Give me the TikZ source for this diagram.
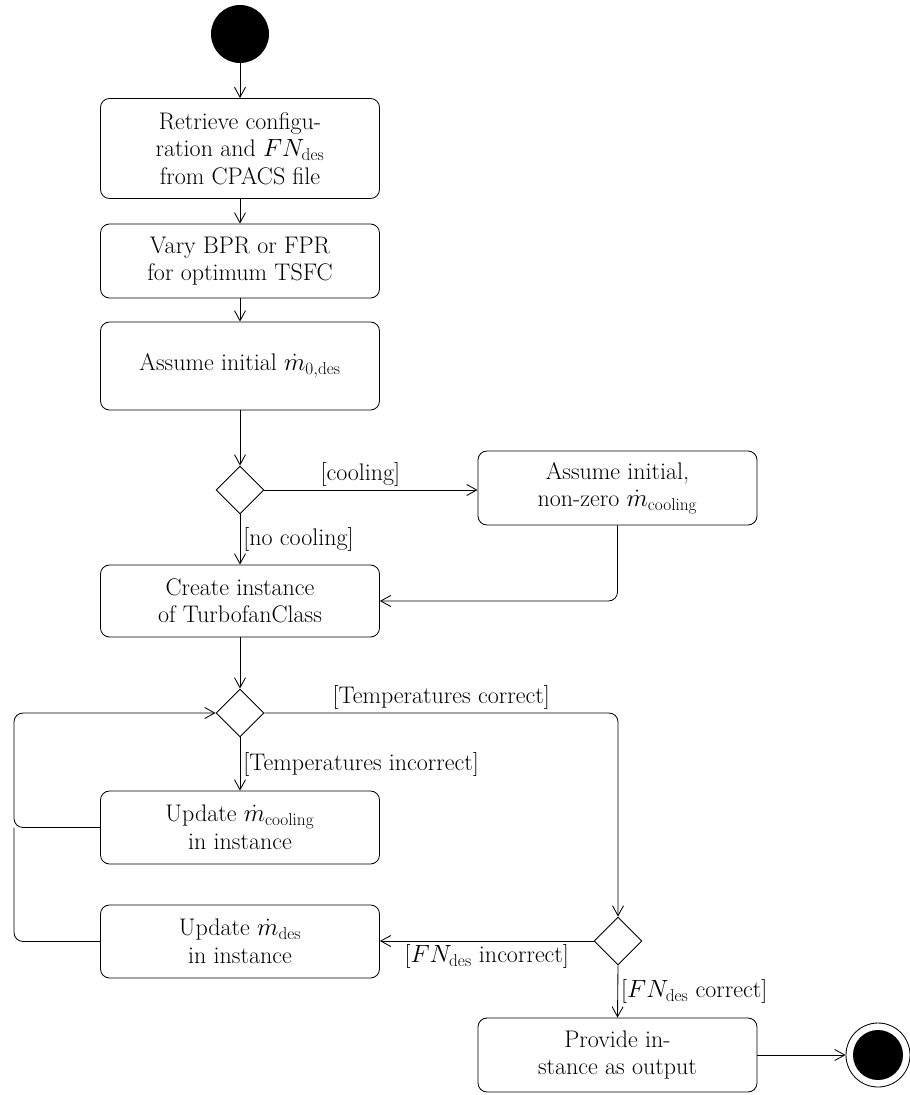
\documentclass[tikz,border=0pt]{standalone}
\usetikzlibrary{shapes.geometric,arrows.meta}
\begin{document}
\begin{tikzpicture}[x=1pt,y=-1pt,
  font=\fontsize{24}{27.5}\selectfont,
  every path/.style={line width=0.85pt},
  flow/.style={-{Straight Barb[length=10pt,width=11pt]}},
  action/.style={draw,rounded corners=9pt,minimum width=279pt,align=center,inner sep=0pt},
  choice/.style={draw,diamond,minimum width=48pt,minimum height=48pt,inner sep=0pt},
  guard/.style={inner sep=3pt}]
\useasboundingbox (0,0) rectangle (910,1095);

% initial and final states
\node[circle,fill=black,minimum size=58pt,inner sep=0pt] (start) at (240,34) {};
\node[circle,draw,minimum size=64pt,inner sep=0pt] (stop) at (878,1055) {};
\fill (stop.center) circle (25pt);

% actions
\node[action,minimum height=100pt] (b1) at (240,148.5) {Retrieve configu-\\ration and $FN_\mathrm{des}$\\from CPACS file};
\node[action,minimum height=74pt] (b2) at (240,261) {Vary BPR or FPR\\for optimum TSFC};
\node[action,minimum height=88pt] (b3) at (240,366) {Assume initial $\dot m_{0,\mathrm{des}}$};
\node[action,minimum height=74pt] (b4) at (617.5,488) {Assume initial,\\non-zero $\dot m_\mathrm{cooling}$};
\node[action,minimum height=72pt] (b5) at (240,601) {Create instance\\of TurbofanClass};
\node[action,minimum height=73pt] (b6) at (240,827.5) {Update $\dot m_\mathrm{cooling}$\\in instance};
\node[action,minimum height=73pt] (b7) at (240,941.5) {Update $\dot m_\mathrm{des}$\\in instance};
\node[action,minimum height=74pt] (b8) at (617.5,1055) {Provide in-\\stance as output};

% decisions
\node[choice] (d1) at (240,490) {};
\node[choice] (d2) at (240,713) {};
\node[choice] (d3) at (618,941) {};

\coordinate (loop) at (14,827.5);

% control flow
\draw[flow] (start) -- (b1);
\draw[flow] (b1) -- (b2);
\draw[flow] (b2) -- (b3);
\draw[flow] (b3) -- (d1);
\draw[flow] (d1.east) -- node[guard,above,pos=0.45] {[cooling]} (d1.east -| b4.west);
\draw[flow] (d1.south) -- node[guard,right] {[no cooling]} (b5.north);
\draw[flow,rounded corners=9pt] (b4.south) |- (b5.east);
\draw[flow] (b5) -- (d2);
\draw[flow,rounded corners=9pt] (d2.east) -| node[guard,above,pos=0.25] {[Temperatures correct]} (d3.north);
\draw[flow] (d2.south) -- node[guard,right] {[Temperatures incorrect]} (b6.north);
\draw[flow,rounded corners=9pt] (b6.west) -- (loop) |- (d2.west);
\draw[rounded corners=9pt] (b7.west) -| (loop);
\draw[flow] (d3.west) -- node[guard,below] {[$FN_\mathrm{des}$ incorrect]} (d3.west -| b7.east);
\draw[flow] (d3.south) -- node[guard,right] {[$FN_\mathrm{des}$ correct]} (b8.north);
\draw[flow] (b8.east) -- (stop.west);
\end{tikzpicture}
\end{document}
